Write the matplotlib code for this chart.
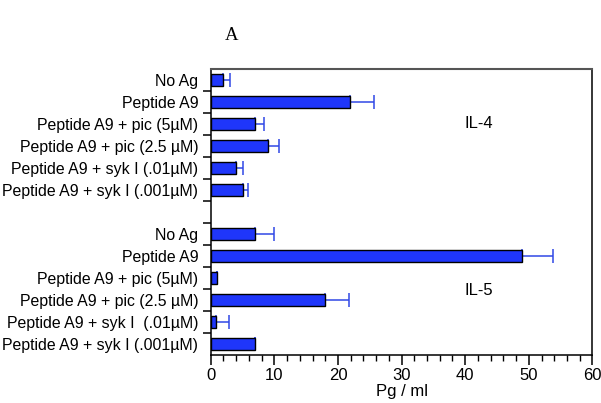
import matplotlib
matplotlib.use("Agg")
import matplotlib.pyplot as plt
import numpy as np

plt.rcParams['font.family'] = ['Liberation Sans', 'DejaVu Sans']

il4_labels = ["No Ag", "Peptide A9", "Peptide A9 + pic (5\u00b5M)",
              "Peptide A9 + pic (2.5 \u00b5M)", "Peptide A9 + syk I (.01\u00b5M)",
              "Peptide A9 + syk I (.001\u00b5M)"]
il4_values = [1.9, 21.9, 6.9, 9.0, 3.9, 5.0]
il4_errors = [1.2, 3.8, 1.4, 1.8, 1.1, 0.8]

il5_labels = ["No Ag", "Peptide A9", "Peptide A9 + pic (5\u00b5M)",
              "Peptide A9 + pic (2.5 \u00b5M)", "Peptide A9 + syk I  (.01\u00b5M)",
              "Peptide A9 + syk I (.001\u00b5M)"]
il5_values = [6.9, 48.9, 1.0, 17.9, 0.8, 7.0]
il5_errors = [3.1, 4.9, 0.0, 3.9, 2.0, 0.0]

BAR_COLOR = "#1f36fa"
ERR_COLOR = "#3048e6"

labels = il4_labels + [""] + il5_labels
values = il4_values + [np.nan] + il5_values
errors = il4_errors + [np.nan] + il5_errors
pos = np.arange(len(labels))

fig = plt.figure(figsize=(6.01, 4.03), dpi=100)
ax = fig.add_axes([0.3506, 0.1191, 0.9858 - 0.3506, 0.8288 - 0.1191])

mask = ~np.isnan(values)
vals = np.array(values)[mask]
errs = np.array(errors)[mask]
ypos = pos[mask]

ax.barh(ypos, vals, height=0.54, color=BAR_COLOR, edgecolor="black", linewidth=1.0, zorder=3)
ax.errorbar(vals, ypos, xerr=[np.zeros_like(errs), errs], fmt="none", ecolor=ERR_COLOR,
            elinewidth=1.1, capsize=5, capthick=1.1, zorder=2)

ax.set_xlim(0, 60)
ax.set_ylim(len(labels) - 0.5, -0.5)
ax.set_xticks(np.arange(0, 61, 10))
ax.set_xticks(np.arange(0, 61, 2), minor=True)
ax.set_yticks(pos)
ax.set_yticklabels(labels, fontsize=11.4)
ax.set_yticks(np.arange(0.5, len(labels) - 0.5, 1), minor=True)
ax.tick_params(axis="y", which="major", length=0, pad=9)
ax.tick_params(axis="y", which="minor", length=6, width=1.1, direction="out")
ax.tick_params(axis="x", which="major", length=7, width=1.1, labelsize=12, pad=2)
ax.tick_params(axis="x", which="minor", length=4, width=1.0)

for s in ["left", "bottom", "right"]:
    ax.spines[s].set_linewidth(1.1)
    ax.spines[s].set_color("black")
ax.spines["top"].set_linewidth(1.5)
ax.spines["top"].set_color("#555555")

ax.set_xlabel("Pg / ml", fontsize=12, labelpad=1)

ax.text(0.703, 0.811, "IL-4", transform=ax.transAxes, fontsize=12, ha="center", va="center")
ax.text(0.703, 0.227, "IL-5", transform=ax.transAxes, fontsize=12, ha="center", va="center")

fig.text(232 / 601, 1 - 35 / 403, "A", family="Liberation Serif", fontsize=13.5, ha="center", va="center")

fig.savefig("out.png", dpi=100)
